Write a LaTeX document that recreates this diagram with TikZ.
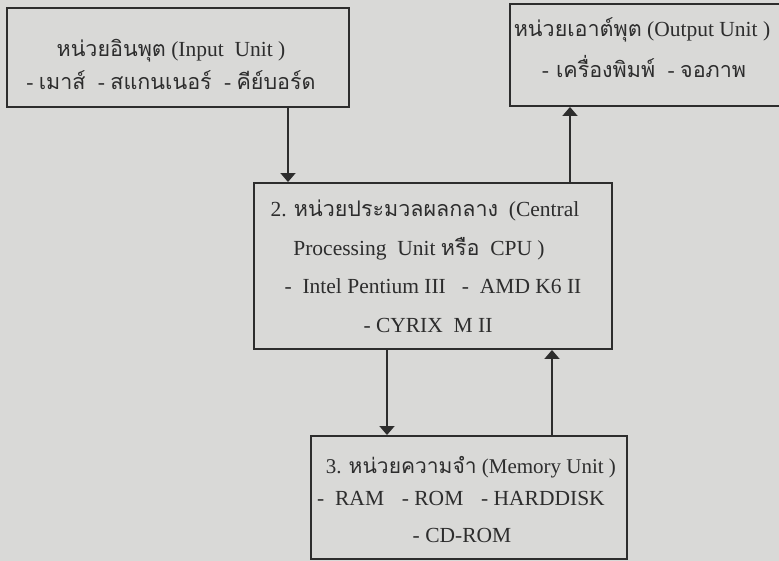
\documentclass[tikz,border=0pt]{standalone}
\usepackage{fontspec}
\setmainfont{Liberation Serif}
\newfontfamily\thaifont[Script=Thai]{Loma}
\newcommand{\thai}[1]{{\thaifont #1}}
\newcommand{\gap}{\hspace{7pt}}
\usepackage{tikz}
\usetikzlibrary{arrows.meta}
\definecolor{paper}{RGB}{217,217,215}
\definecolor{inkgray}{RGB}{45,45,45}

\begin{document}
\begin{tikzpicture}[x=1pt, y=-1pt, >={Triangle[width=15pt,length=9pt]},
  unitbox/.style={draw=inkgray, line width=1.9pt, inner sep=0pt},
  txt/.style={inkgray, anchor=base, inner sep=0pt, font=\fontsize{21.5}{25}\selectfont},
  flow/.style={->, draw=inkgray, line width=1.6pt}]

\fill[paper] (0,0) rectangle (779,561);
\useasboundingbox (0,0) rectangle (779,561);

%% Input unit
\node[unitbox, minimum width=342, minimum height=99] (inbox) at (178,57.5) {};
\node[txt] (in1) at (171,57) {\thai{หน่วยอินพุต} (Input\ \ Unit )};
\node[txt] (in2) at (171,90) {- \thai{เมาส์}\ \gap- \thai{สแกนเนอร์}\ \gap- \thai{คีย์บอร์ด}};

%% Output unit
\node[txt] (out1) at (642,37) {\thai{หน่วยเอาต์พุต} (Output Unit )};
\node[unitbox, minimum width=290, minimum height=102] (outbox) at (655,55) {};
\node[txt] (out2) at (644,78) {-\gap\thai{เครื่องพิมพ์}\ \gap-\ \thai{จอภาพ}};

%% 2. CPU
\node[unitbox, minimum width=358, minimum height=166] (cpubox) at (433,266) {};
\node[txt] (cpu1) at (425,217) {2. \thai{หน่วยประมวลผลกลาง}\ \ (Central};
\node[txt] (cpu2) at (419,256) {Processing\ \ Unit \thai{หรือ}\ \ CPU )};
\node[txt] (cpu3) at (433,294) {-\ \ Intel Pentium III\ \ \ -\ \ AMD K6 II};
\node[txt] (cpu4) at (428,332) {-\ CYRIX\ \ M II};

%% 3. Memory
\node[unitbox, minimum width=316, minimum height=123] (membox) at (469,497.5) {};
\node[txt, font=\fontsize{21}{25}\selectfont] (mem1) at (471,473) {3. \thai{หน่วยความจำ} (Memory Unit )};
\node[txt] (mem2) at (461,505) {-\ \ RAM\ \gap\ - ROM\ \gap\ -\ HARDDISK};
\node[txt] (mem3) at (462,542) {-\ CD-ROM};

%% connectors
\coordinate (indown) at ([xshift=110]inbox.south);
\coordinate (outup) at ([xshift=137]cpubox.north);
\coordinate (memdown) at ([xshift=-46]cpubox.south);
\coordinate (memup) at ([xshift=83]membox.north);
\draw[flow] (indown) -- (indown |- cpubox.north);
\draw[flow] (outup) -- (outup |- outbox.south);
\draw[flow] (memdown) -- (memdown |- membox.north);
\draw[flow] (memup) -- (memup |- cpubox.south);
\end{tikzpicture}
\end{document}
